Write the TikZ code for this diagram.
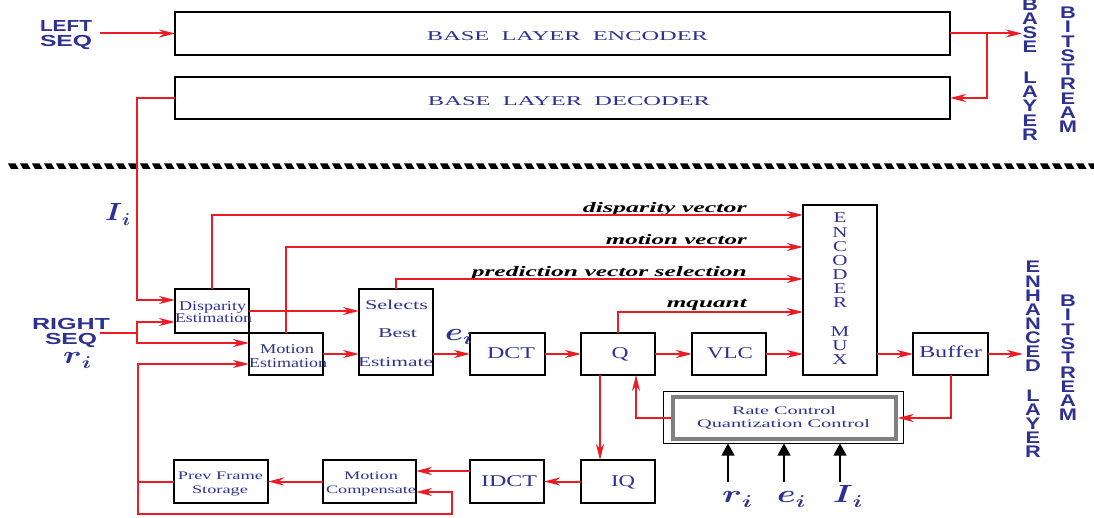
\documentclass[tikz,border=0pt]{standalone}
\usepackage{fontspec}
\usepackage{amsmath}
\usepackage{graphicx}
\setmainfont{Liberation Serif}
\setsansfont{Liberation Sans}
\usetikzlibrary{arrows.meta,calc}
\definecolor{tblue}{RGB}{46,49,146}
\definecolor{lred}{RGB}{237,28,36}
\newcommand\hf[2]{\resizebox{#1}{\height}{#2}}
\newcommand\mlab[2]{\hf{#2}{\boldmath$#1$\raisebox{-5pt}{\fontsize{18}{20}\selectfont\boldmath$i$}}}
\begin{document}
\begin{tikzpicture}[x=1pt,y=-1pt,
  box/.style={draw=black, line width=2.2pt, inner sep=0pt, outer sep=0pt},
  wire/.style={draw=lred, line width=2pt},
  arr/.style={wire, -{Stealth[length=16pt,width=8pt,inset=5pt]}},
  barr/.style={draw=black, line width=1.3pt, -{Triangle[length=12pt,width=13pt]}},
  txt/.style={text=tblue, inner sep=0pt, anchor=base},
  big/.style={txt, font=\fontsize{13.5}{15}\selectfont},
  huge/.style={txt, font=\fontsize{16.5}{18}\selectfont},
  small/.style={txt, font=\fontsize{11.5}{13}\selectfont},
  lab/.style={text=black, inner sep=0pt, anchor=base east, font=\fontsize{14.5}{16}\selectfont\bfseries\itshape},
  sq/.style={text=tblue, inner sep=0pt, anchor=base, font=\fontsize{16}{17}\selectfont\sffamily\bfseries},
  vs/.style={text=tblue, inner sep=0pt, text height=12pt, text depth=0pt, font=\fontsize{16.8}{18}\selectfont\sffamily\bfseries},
  vm/.style={text=tblue, inner sep=0pt, text height=9.9pt, text depth=0pt, font=\fontsize{15}{17}\selectfont},
  ml/.style={text=tblue, inner sep=0pt, anchor=base west, font=\fontsize{24}{26}\selectfont}
]
\useasboundingbox (0,0) rectangle (1094,518);

% separator
\foreach \x in {8,20,...,1094}
  \fill[black] (\x,163.5) -- (\x+7.5,163.5) -- (\x+10.5,169) -- (\x+3,169) -- cycle;

% boxes
\node[box, minimum width=775pt, minimum height=43pt] (enc) at (562.5,33.5) {};
\node[box, minimum width=775pt, minimum height=42pt] (dec) at (562.5,98) {};
\node[box, minimum width=74pt, minimum height=44pt] (disp) at (212,311) {};
\node[box, minimum width=74pt, minimum height=42pt] (mest) at (286,354) {};
\node[box, minimum width=74pt, minimum height=86pt] (sel) at (396,332) {};
\node[box, minimum width=75pt, minimum height=42pt] (dct) at (507.5,354) {};
\node[box, minimum width=74pt, minimum height=42pt] (q) at (618,354) {};
\node[box, minimum width=74pt, minimum height=42pt] (vlc) at (729,354) {};
\node[box, minimum width=74pt, minimum height=170pt] (mux) at (840,290) {};
\node[box, minimum width=75pt, minimum height=42pt] (buf) at (950.5,354) {};
\node[draw=black, line width=1pt, inner sep=0pt, minimum width=240pt, minimum height=52pt] (rco) at (783,417) {};
\node[draw=gray, line width=3.4pt, inner sep=0pt, minimum width=223pt, minimum height=42pt] (rci) at (784.5,418) {};
\node[box, minimum width=74pt, minimum height=43pt] (iq) at (618,481.5) {};
\node[box, minimum width=74pt, minimum height=43pt] (idct) at (507,481.5) {};
\node[box, minimum width=93pt, minimum height=43pt] (mc) at (369.5,481.5) {};
\node[box, minimum width=94pt, minimum height=43pt] (pfs) at (221,481.5) {};

% box texts
\node[big] (tenc) at (567.5,41) {\hf{281pt}{BASE\ \ LAYER\ \ ENCODER}};
\node[big] (tdec) at (569,105.5) {\hf{282pt}{BASE\ \ LAYER\ \ DECODER}};
\node[big] (td1) at (212.5,311) {\hf{67pt}{Disparity}};
\node[big] (td2) at (213.5,323) {\hf{77pt}{Estimation}};
\node[big] (tm1) at (287,353) {\hf{54pt}{Motion}};
\node[big] (tm2) at (288,367) {\hf{78pt}{Estimation}};
\node[big] (ts1) at (396.5,309) {\hf{63pt}{Selects}};
\node[big] (ts2) at (397.5,337) {\hf{39pt}{Best}};
\node[big] (ts3) at (395.5,366) {\hf{75pt}{Estimate}};
\node[huge] (tdct) at (511,358) {\hf{48pt}{DCT}};
\node[huge] (tq) at (620,358) {\hf{17pt}{Q}};
\node[huge] (tvlc) at (730,358) {\hf{46pt}{VLC}};
\node[huge] (tbuf) at (950.5,357) {\hf{63pt}{Buffer}};
\node[small] (tr1) at (784,414) {\hf{104pt}{Rate Control}};
\node[small] (tr2) at (783.5,427) {\hf{173pt}{Quantization Control}};
\node[huge] (tiq) at (623,486) {\hf{24pt}{IQ}};
\node[huge] (tidct) at (509,486) {\hf{56pt}{IDCT}};
\node[small] (tc1) at (371,479) {\hf{54pt}{Motion}};
\node[small] (tc2) at (371,493) {\hf{90pt}{Compensate}};
\node[small] (tp1) at (220.5,479) {\hf{85pt}{Prev Frame}};
\node[small] (tp2) at (220,493) {\hf{56pt}{Storage}};

% encoder mux letters
\foreach \L [count=\k] in {E,N,C,O,D,E,R}
  \node[vm] (mx\k) at (840,{218+14.17*(\k-1)}) {\scalebox{1.4}[1]{\L}};
\foreach \L [count=\k] in {M,U,X}
  \node[vm] (my\k) at (840,{332+14*(\k-1)}) {\scalebox{1.4}[1]{\L}};

% side vertical labels
\foreach \L [count=\k] in {B,A,S,E}
  \node[vs] (ba\k) at (1030,{5+14*(\k-1)}) {\scalebox{1.3}[1]{\L}};
\foreach \L [count=\k] in {L,A,Y,E,R}
  \node[vs] (bl\k) at (1030,{77.5+14.2*(\k-1)}) {\scalebox{1.3}[1]{\L}};
\foreach \L [count=\k] in {B,I,T,S,T,R,E,A,M}
  \node[vs] (bb\k) at (1068,{12.5+14.3*(\k-1)}) {\scalebox{1.3}[1]{\L}};
\foreach \L [count=\k] in {E,N,H,A,N,C,E,D}
  \node[vs] (eh\k) at (1033,{267+14.1*(\k-1)}) {\scalebox{1.3}[1]{\L}};
\foreach \L [count=\k] in {L,A,Y,E,R}
  \node[vs] (el\k) at (1033,{395.5+13.9*(\k-1)}) {\scalebox{1.3}[1]{\L}};
\foreach \L [count=\k] in {B,I,T,S,T,R,E,A,M}
  \node[vs] (eb\k) at (1068,{300.5+14.3*(\k-1)}) {\scalebox{1.3}[1]{\L}};

% seq labels
\node[sq] (lft) at (66,32) {\hf{52pt}{LEFT}};
\node[sq] (lsq) at (66,46.5) {\hf{52pt}{SEQ}};
\node[sq] (rgt) at (71,330) {\hf{78pt}{RIGHT}};
\node[sq] (rsq) at (71,344.5) {\hf{52pt}{SEQ}};

% math labels
\node[ml] (lit) at (105,221) {\mlab{I}{25pt}};
\node[ml] (ril) at (63,363) {\mlab{r}{28pt}};
\node[ml] (eim) at (445,340) {\mlab{e}{27pt}};
\node[ml] (rib) at (722,502) {\mlab{r}{30pt}};
\node[ml] (eib) at (777,502) {\mlab{e}{28pt}};
\node[ml] (lib) at (833,502) {\mlab{I}{29pt}};

% italic labels
\node[lab] (ldv) at (747,213) {\hf{164pt}{disparity vector}};
\node[lab] (lmv) at (747,245) {\hf{141pt}{motion vector}};
\node[lab] (lpv) at (747,277) {\hf{275pt}{prediction vector selection}};
\node[lab] (lmq) at (747,308) {\hf{80pt}{mquant}};

% coordinates
\coordinate (lsin) at (100,33.5);
\coordinate (blout) at (1022,33.5);
\coordinate (br) at (987,33.5);
\coordinate (lc) at (137,300);
\coordinate (rs0) at (100,333);
\coordinate (rsj) at (137,333);
\coordinate (rsa) at (137,322);
\coordinate (rsb) at (137,343);
\coordinate (fb) at (138,481.5);
\coordinate (fbt) at (138,364);
\coordinate (fbb) at (138,514);
\coordinate (fbr) at (452,514);
\coordinate (fbu) at (452,492);
\coordinate (eout) at (1023,354);
\coordinate (ic) at ($(idct.west)+(0,-10.5)$);
\coordinate (r0) at (728,482);
\coordinate (e0) at (784,482);
\coordinate (l0) at (840,482);

% base layer connectors
\draw[arr] (lsin) -- (enc.west);
\draw[arr] (enc.east) -- (blout);
\draw[arr] (br) |- (dec.east);
\draw[arr] (dec.west) -| (lc) -- (disp.west |- lc);

% right seq
\draw[wire] (rs0) -- (rsj);
\draw[arr] (rsj) -- (rsa) -- (disp.west |- rsa);
\draw[arr] (rsj) -- (rsb) -- (mest.west |- rsb);

% vectors to mux
\draw[arr] (disp.north) |- (mux.west |- 0,215);
\draw[arr] (mest.north) |- (mux.west |- 0,247);
\draw[arr] (sel.north) |- (mux.west |- 0,279);
\draw[arr] (q.north) |- (mux.west |- 0,312);

% main chain
\draw[arr] (disp.east) -- (sel.west |- disp.east);
\draw[arr] (mest.east) -- (sel.west |- mest.east);
\draw[arr] (sel.east |- dct.west) -- (dct.west);
\draw[arr] (dct.east) -- (q.west);
\draw[arr] (q.east) -- (vlc.west);
\draw[arr] (vlc.east) -- (mux.west |- vlc.east);
\draw[arr] (mux.east |- buf.west) -- (buf.west);
\draw[arr] (buf.east) -- (eout);

% rate control loop
\draw[arr] (buf.south) |- (rci.east);
\draw[arr] (rci.west) -| ($(q.south)+(18,0)$);
\draw[arr] ($(q.south)+(-18,0)$) -- ($(iq.north)+(-18,0)$);

% reconstruction loop
\draw[arr] (iq.west) -- (idct.east);
\draw[arr] (ic) -- (mc.east |- ic);
\draw[arr] (mc.west) -- (pfs.east);
\draw[wire] (pfs.west) -- (fb);
\draw[arr] (fb) -- (fbt) -- (mest.west |- fbt);
\draw[arr] (fb) -- (fbb) -- (fbr) -- (fbu) -- (mc.east |- fbu);

% rate control inputs
\draw[barr] (r0) -- (rco.south -| r0);
\draw[barr] (e0) -- (rco.south -| e0);
\draw[barr] (l0) -- (rco.south -| l0);
\end{tikzpicture}
\end{document}
